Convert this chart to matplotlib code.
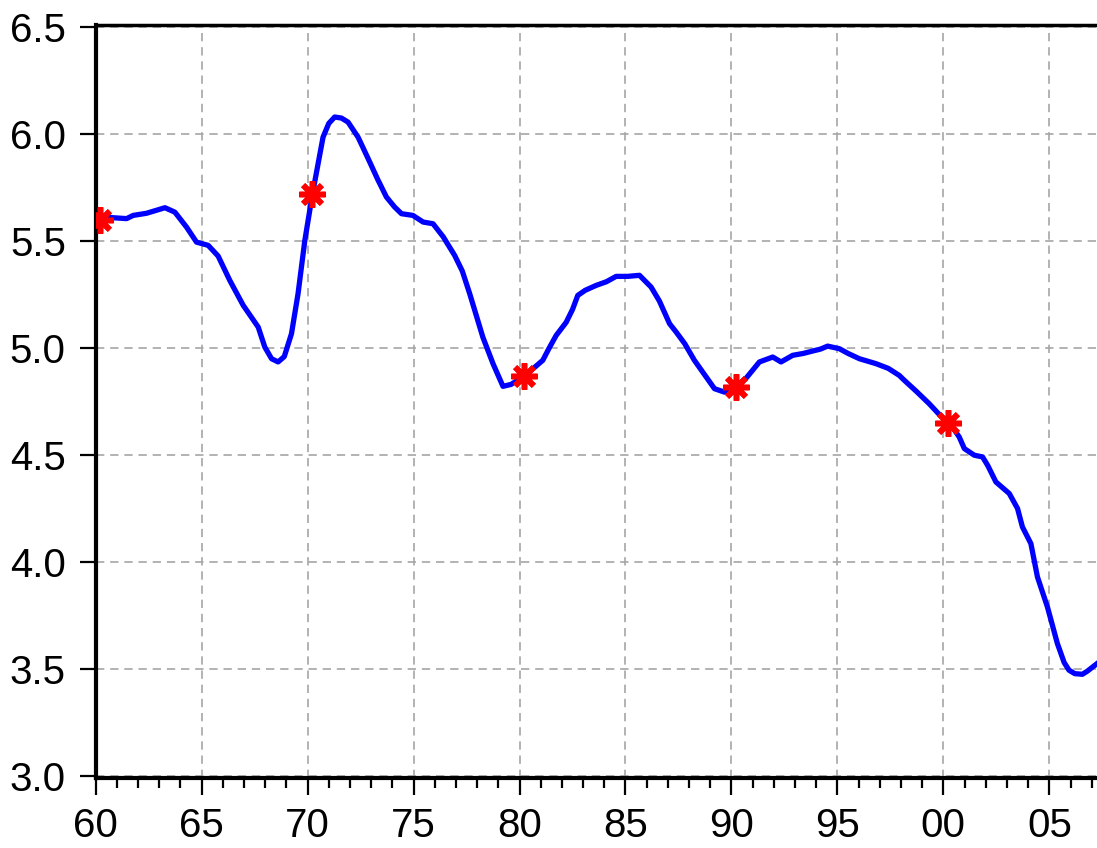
import numpy as np
import matplotlib
matplotlib.use("Agg")
import matplotlib.pyplot as plt
import matplotlib.ticker as ticker

plt.rcParams['font.family'] = ['Liberation Sans', 'DejaVu Sans']

# values (decimal year, value)
years = [1960.0, 1960.7, 1961.46, 1961.77, 1962.4, 1963.27, 1963.74, 1964.29, 1964.76,
         1965.31, 1965.78, 1966.33, 1966.96, 1967.67, 1967.98, 1968.3, 1968.61, 1968.9,
         1969.24, 1969.55, 1969.87, 1970.23, 1970.73, 1971.0, 1971.28, 1971.6, 1971.91,
         1972.38, 1972.6, 1972.93, 1973.3, 1973.72, 1974.1, 1974.43, 1974.97, 1975.45,
         1975.92, 1976.4, 1976.94, 1977.3, 1977.65, 1978.27, 1978.75, 1979.22, 1979.6,
         1980.16, 1980.6, 1981.1, 1981.4, 1981.73, 1982.2, 1982.5, 1982.75, 1983.1,
         1983.62, 1984.1, 1984.56, 1985.1, 1985.66, 1986.21, 1986.6, 1987.08, 1987.39,
         1987.8, 1988.25, 1988.7, 1989.2, 1989.67, 1990.22, 1990.7, 1991.32, 1991.95,
         1992.34, 1992.89, 1993.4, 1993.83, 1994.2, 1994.54, 1995.09, 1995.5, 1996.04,
         1996.82, 1997.4, 1997.92, 1998.16, 1998.7, 1999.33, 1999.8, 2000.2, 2000.5,
         2000.75, 2000.99, 2001.46, 2001.85, 2002.1, 2002.48, 2003.11, 2003.5, 2003.73,
         2004.13, 2004.44, 2004.91, 2005.38, 2005.7, 2005.93, 2006.2, 2006.56, 2006.8,
         2007.25]
values = [5.61, 5.61, 5.605, 5.62, 5.63, 5.656, 5.635, 5.565, 5.495,
          5.48, 5.43, 5.316, 5.2, 5.098, 5.005, 4.95, 4.935, 4.96,
          5.067, 5.254, 5.503, 5.72, 5.986, 6.05, 6.08, 6.075, 6.056,
          5.986, 5.94, 5.87, 5.79, 5.706, 5.66, 5.628, 5.62, 5.589,
          5.581, 5.52, 5.433, 5.36, 5.254, 5.051, 4.927, 4.821, 4.83,
          4.864, 4.9, 4.943, 5.0, 5.059, 5.12, 5.18, 5.246, 5.27,
          5.293, 5.31, 5.335, 5.335, 5.34, 5.285, 5.22, 5.114, 5.075,
          5.02, 4.943, 4.88, 4.81, 4.794, 4.818, 4.86, 4.935, 4.958,
          4.935, 4.966, 4.975, 4.986, 4.995, 5.009, 4.997, 4.975, 4.95,
          4.927, 4.905, 4.872, 4.849, 4.8, 4.74, 4.69, 4.654, 4.62,
          4.584, 4.53, 4.499, 4.491, 4.45, 4.374, 4.32, 4.25, 4.164,
          4.086, 3.93, 3.79, 3.619, 3.53, 3.494, 3.478, 3.475, 3.49,
          3.525]

mark_years = [1960.2, 1970.2, 1980.2, 1990.2, 2000.2]
mark_values = [5.60, 5.72, 4.87, 4.82, 4.65]

fig = plt.figure(figsize=(10.97, 8.48), dpi=100)
ax = fig.add_axes([0.0872, 0.0825, 0.9128, 0.888])

ax.plot(years, values, color='#0000ff', lw=3.8, zorder=3)
ax.plot(mark_years, mark_values, linestyle='none', marker=(8, 2, 0),
        markersize=19, markeredgewidth=4, color='#ff0000', zorder=4)

ax.set_xlim(1960, 2007.25)
ax.set_ylim(2.99, 6.51)

ax.xaxis.set_major_locator(ticker.MultipleLocator(5))
ax.xaxis.set_minor_locator(ticker.MultipleLocator(1))
ax.xaxis.set_major_formatter(ticker.FuncFormatter(lambda v, p: '%02d' % (int(round(v)) % 100)))
ax.yaxis.set_major_locator(ticker.FixedLocator([3.0, 3.5, 4.0, 4.5, 5.0, 5.5, 6.0, 6.5]))
ax.yaxis.set_major_formatter(ticker.FormatStrFormatter('%.1f'))

ax.grid(True, which='major', color='#a6a6a6', lw=1.2, linestyle=(0, (5, 3.5)))
ax.set_axisbelow(True)

ax.tick_params(axis='x', which='major', direction='out', length=12, width=1.6,
               labelsize=29, pad=9)
ax.tick_params(axis='x', which='minor', direction='out', length=7, width=1.6)
ax.tick_params(axis='y', which='major', direction='out', length=11.5, width=1.6,
               labelsize=29, pad=10)

for s in ['left', 'bottom']:
    ax.spines[s].set_linewidth(3)
ax.spines['top'].set_linewidth(2.5)
ax.spines['right'].set_visible(False)

fig.savefig('out.png', dpi=100)
